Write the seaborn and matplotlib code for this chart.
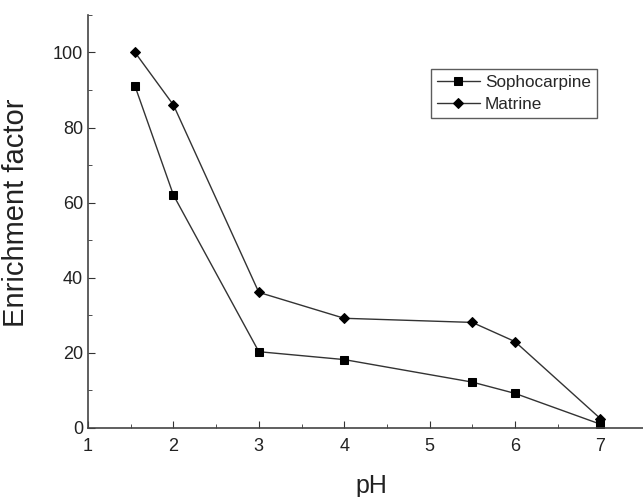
import numpy as np
import pandas as pd
import seaborn as sns
import matplotlib.pyplot as plt
from matplotlib.ticker import MultipleLocator

ph = [1.55, 2, 3, 4, 5.5, 6, 7]
sophocarpine = [91, 62, 20.3, 18.2, 12.2, 9.2, 1]
matrine = [100, 86, 36.1, 29.2, 28.1, 23, 2.5]

df = pd.DataFrame({
    "pH": ph * 2,
    "ef": sophocarpine + matrine,
    "compound": ["Sophocarpine"] * len(ph) + ["Matrine"] * len(ph),
})

sns.set_style("ticks")
plt.rcParams['font.family'] = ['Liberation Sans', 'DejaVu Sans']

fig = plt.figure(figsize=(6.43, 4.97), dpi=100)
ax = fig.add_axes([0.137, 0.139, 0.863, 0.831])

sns.lineplot(data=df, x="pH", y="ef", hue="compound", style="compound",
             markers={"Sophocarpine": "s", "Matrine": "D"}, dashes=False,
             palette={"Sophocarpine": "#333333", "Matrine": "#333333"},
             linewidth=1, markersize=5, markeredgecolor="black",
             markerfacecolor="black", ax=ax)
# squares a bit bigger than diamonds
for ln in ax.get_lines():
    if ln.get_marker() == "s":
        ln.set_markersize(5.5)

ax.set_xlim(1, 7.5)
ax.set_ylim(0, 110)
ax.xaxis.set_major_locator(MultipleLocator(1))
ax.xaxis.set_minor_locator(MultipleLocator(0.5))
ax.yaxis.set_major_locator(MultipleLocator(20))
ax.yaxis.set_minor_locator(MultipleLocator(10))
ax.set_xticks([1, 2, 3, 4, 5, 6, 7])
ax.tick_params(which="both", direction="in", colors="#333333", labelcolor="#222222", labelsize=13)
ax.tick_params(which="major", length=5)
ax.tick_params(which="minor", length=3)
ax.tick_params(axis="x", pad=7)
sns.despine(ax=ax)
for s in ["left", "bottom"]:
    ax.spines[s].set_color("#444444")
    ax.spines[s].set_linewidth(1.2)

ax.set_xlabel("pH", fontsize=18, color="#222222")
ax.set_ylabel("Enrichment factor", fontsize=21, color="#222222")
ax.xaxis.set_label_coords(0.51, -0.112)
ax.yaxis.set_label_coords(-0.105, 0.52)

leg = ax.legend(loc="upper left", bbox_to_anchor=(0.618, 0.87), frameon=True,
                fancybox=False, edgecolor="#333333", fontsize=12.3,
                handlelength=2.5, borderpad=0.35, labelspacing=0.45,
                handletextpad=0.3, borderaxespad=0)
leg.get_frame().set_linewidth(1)
for h in leg.legend_handles:
    if h.get_marker() == "s":
        h.set_markersize(5.5)

fig.savefig("out.png", dpi=100)
